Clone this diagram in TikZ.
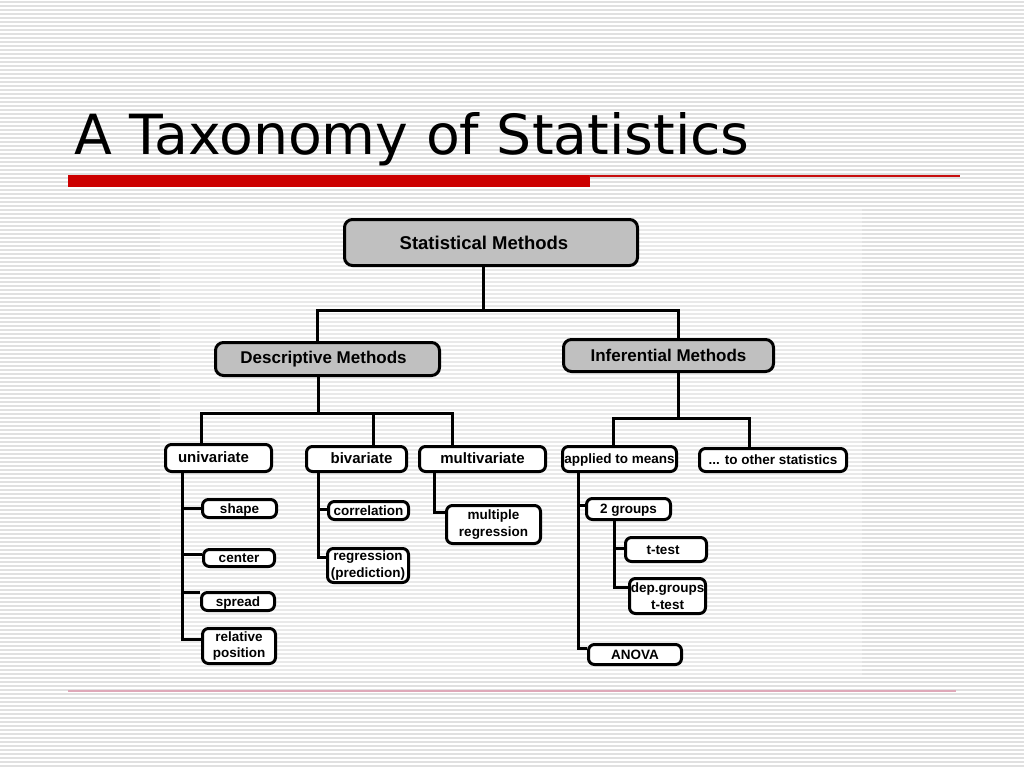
\documentclass[tikz,border=0pt]{standalone}
\usepackage{fontspec}
\setmainfont{Liberation Sans}
\newfontfamily\titlefont{DejaVu Sans}
\definecolor{boxgray}{RGB}{192,192,192}
\definecolor{redbar}{RGB}{204,0,0}
\definecolor{thinred}{RGB}{200,16,16}
\definecolor{stripe}{RGB}{224,224,224}
\definecolor{footline}{RGB}{222,168,184}
\newcommand{\lowtxt}[1]{\raisebox{-4.6pt}[0pt][0pt]{#1}}
\tikzset{
  big/.style={draw=black, line width=3pt, rounded corners=8pt, fill=boxgray, inner sep=0pt,
    font=\fontsize{17}{20}\selectfont\bfseries},
  small/.style={draw=black, line width=3pt, rounded corners=6pt, fill=white, inner sep=0pt,
    align=center, font=\fontsize{13.5}{16.5}\selectfont\bfseries},
  wide/.style={font=\fontsize{15}{18}\selectfont\bfseries},
  conn/.style={draw=black, line width=3pt, line join=miter},
  stripeline/.style={draw=stripe, line width=1.1pt}
}
\begin{document}
\begin{tikzpicture}[x=1pt, y=-1pt]
\useasboundingbox (0,0) rectangle (1024,768);
% background
\fill[white] (0,0) rectangle (1024,768);
\foreach \y in {2,6,...,766} \draw[stripeline] (0,\y) -- (1024,\y);
\fill[white, opacity=0.3] (160,208) rectangle (862,676);
% title
\node[anchor=base west, inner sep=0pt, font=\titlefont\fontsize{55.3}{60}\selectfont] (title) at (74,154) {A Taxonomy of Statistics};
\fill[redbar] (68,175) rectangle (590,187);
\draw[thinred, line width=1.5pt] (589,175.8) -- (960,175.8);
\draw[footline, line width=1.2pt] (68,691) -- (956,691);
% nodes
\node[big, minimum width=293pt, minimum height=46pt, font=\fontsize{18.5}{20}\selectfont\bfseries] (stat) at (491,242.5) {\hspace*{-14pt}Statistical Methods};
\node[big, minimum width=224pt, minimum height=33pt] (desc) at (327.5,359) {\hspace*{-8pt}Descriptive Methods};
\node[big, minimum width=210pt, minimum height=32pt] (inf) at (668.5,355.5) {Inferential Methods};
\node[small, wide, minimum width=106pt, minimum height=27pt] (univ) at (218.5,458) {\lowtxt{univariate}\hspace*{10pt}};
\node[small, wide, minimum width=100pt, minimum height=25pt] (biv) at (356.5,459) {\hspace*{10pt}\lowtxt{bivariate}};
\node[small, wide, minimum width=126pt, minimum height=25pt] (multi) at (482.5,459) {\lowtxt{multivariate}};
\node[small, minimum width=94pt, minimum height=38pt] (mreg) at (493.5,524.5) {multiple\\regression};
\node[small, minimum width=74pt, minimum height=18pt] (shape) at (239.5,508.5) {\lowtxt{shape}};
\node[small, minimum width=71pt, minimum height=17pt] (ctr) at (239,558) {\lowtxt{center}};
\node[small, minimum width=73pt, minimum height=18pt] (spread) at (238,601.5) {\lowtxt{spread}};
\node[small, minimum width=73pt, minimum height=35pt] (relpos) at (239,646) {relative\\position};
\node[small, minimum width=80pt, minimum height=18pt] (corr) at (368.5,510.5) {\lowtxt{correlation}};
\node[small, minimum width=81pt, minimum height=34pt] (regr) at (368,565.5) {regression\\(prediction)};
\node[small, minimum width=114pt, minimum height=25pt] (means) at (619.5,459) {\lowtxt{applied to means}};
\node[small, minimum width=147pt, minimum height=23pt] (other) at (773,460) {\lowtxt{... to other statistics}};
\node[small, minimum width=84pt, minimum height=21pt] (grp2) at (628.5,509) {\lowtxt{2 groups}};
\node[small, minimum width=81pt, minimum height=24pt] (ttest) at (666,549.5) {\lowtxt{t-test}\hspace*{6pt}};
\node[small, minimum width=76pt, minimum height=35pt] (dep) at (667.5,596) {dep.groups\\t-test};
\node[small, minimum width=93pt, minimum height=20pt] (anova) at (635,654.5) {\lowtxt{ANOVA}};
% connectors: top level
\coordinate (b1) at (483,310);
\coordinate (b1l) at (317,310);
\coordinate (b1r) at (678,310);
\draw[conn] (b1 |- stat.south) -- (b1);
\draw[conn] (b1l |- desc.north) -- (b1l) -- (b1r) -- (b1r |- inf.north);
% descriptive
\coordinate (b2) at (318,413);
\coordinate (b2l) at (201,413);
\coordinate (b2m) at (373,413);
\coordinate (b2r) at (452,413);
\draw[conn] (b2 |- desc.south) -- (b2);
\draw[conn] (b2l |- univ.north) -- (b2l) -- (b2r) -- (b2r |- multi.north);
\draw[conn] (b2m) -- (b2m |- biv.north);
% inferential
\coordinate (b3) at (678,418);
\coordinate (b3l) at (613,418);
\coordinate (b3r) at (749,418);
\draw[conn] (b3 |- inf.south) -- (b3);
\draw[conn] (b3l |- means.north) -- (b3l) -- (b3r) -- (b3r |- other.north);
% univariate
\coordinate (u1) at (182,508);
\coordinate (u2) at (182,554);
\coordinate (u3) at (182,592);
\coordinate (u4) at (182,639);
\draw[conn] (u4 |- univ.south) -- (u4) -- (u4 -| relpos.west);
\draw[conn] (u1) -- (u1 -| shape.west);
\draw[conn] (u2) -- (u2 -| ctr.west);
\draw[conn] (u3) -- (u3 -| spread.west);
% bivariate
\coordinate (v1) at (318,509);
\coordinate (v2) at (318,557);
\draw[conn] (v2 |- biv.south) -- (v2) -- (v2 -| regr.west);
\draw[conn] (v1) -- (v1 -| corr.west);
% multivariate
\coordinate (m1) at (434,512);
\draw[conn] (m1 |- multi.south) -- (m1) -- (m1 -| mreg.west);
% applied to means
\coordinate (a1) at (578,505);
\coordinate (a2) at (578,648);
\draw[conn] (a2 |- means.south) -- (a2) -- (a2 -| anova.west);
\draw[conn] (a1) -- (a1 -| grp2.west);
% 2 groups
\coordinate (g1) at (614,548);
\coordinate (g2) at (614,587);
\draw[conn] (g2 |- grp2.south) -- (g2) -- (g2 -| dep.west);
\draw[conn] (g1) -- (g1 -| ttest.west);
\end{tikzpicture}
\end{document}
